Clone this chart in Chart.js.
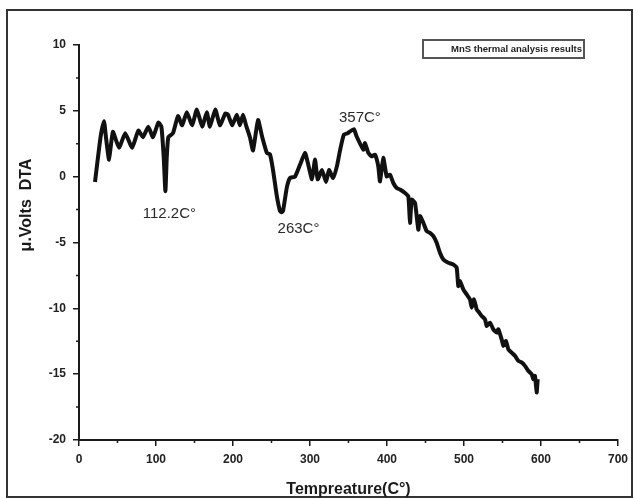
<!DOCTYPE html>
<html>
<head>
<meta charset="utf-8">
<title>MnS DTA</title>
<script src="https://cdn.jsdelivr.net/npm/chart.js@4.4.1/dist/chart.umd.min.js"></script>
<style>
    html, body { margin: 0; padding: 0; background: #fff; }
    #wrap { width: 634px; height: 499px; position: relative; }
</style>
</head>
<body>
<div id="wrap"><canvas id="dtaChart"></canvas></div>
<script>
// DTA trace of MnS: temperature (C) and signal (micro volts)
const tempC = [
    20.8, 28, 32.5, 35, 39, 44, 52, 60, 69, 77, 83, 90, 96, 103, 107, 110, 112.2, 114, 116,
    122, 128.6, 134, 140, 147, 153, 160, 166, 170, 177, 183, 190, 193.5, 199, 205, 209, 213,
    217, 222, 226, 232.5, 238, 244, 248, 252, 257, 261, 263, 265, 270, 274, 280.5, 287, 293.5,
    297, 302.6, 306.5, 310, 315.6, 320.8, 324.7, 330, 335, 339, 344, 349, 351, 357,
    360.6, 369.3, 371.4, 375.8, 380.1, 384.4, 388.7, 390.9, 395.2, 399.6, 403.9, 408.2, 412.6,
    416.9, 423.4, 427.7, 429.9, 432.1, 436.4, 440.7, 442.9, 447.2, 451.6, 455.8, 460.2, 464.5,
    468.8, 473.2, 479.6, 486.1, 490.5, 492.6, 494.8, 499.1, 503.5, 507.8, 510, 513, 516.5,
    519.9, 523, 527.3, 529.4, 533.8, 538.1, 542.4, 544.6, 548.9, 551.1, 554.5, 557.6, 561.9,
    566.2, 570.6, 574.9, 579.2, 583.6, 587.9, 590, 592.2, 594.4, 595.7
];
const dtaMicroVolts = [
    -0.4, 3.0, 4.2, 3.0, 1.3, 3.4, 2.2, 3.3, 2.2, 3.5, 3.0, 3.8, 3.0, 4.1, 3.8, 1.5, -1.1, 1.5, 3.0,
    3.3, 4.6, 3.9, 4.9, 3.9, 5.1, 3.8, 4.9, 3.8, 5.1, 3.9, 4.8, 4.7, 3.9, 4.7, 3.9, 4.7,
    3.9, 3.0, 2.0, 4.3, 3.0, 1.8, 1.7, 0.5, -1.5, -2.6, -2.7, -2.6, -0.8, -0.1, 0.0, 0.9, 1.8,
    1.1, -0.2, 1.3, -0.2, 0.5, -0.4, 0.5, -0.1, 0.8, 2.0, 3.2, 3.3, 3.4, 3.6,
    3.05, 2.05, 2.55, 1.8, 1.54, 1.67, 0.78, -0.36, 1.42, 0.02, 0.15, -0.48, -0.86,
    -0.98, -1.24, -1.49, -3.51, -1.74, -1.99, -4.02, -3.0, -3.5, -4.14, -4.27, -4.52, -5.02,
    -5.78, -6.29, -6.54, -6.67, -6.92, -8.31, -7.93, -8.56, -8.94, -9.32, -9.95, -9.32, -10.08,
    -10.33, -10.58, -10.83, -11.34, -11.09, -11.59, -11.84, -11.59, -12.35, -12.86, -12.48, -13.11, -13.36,
    -13.61, -13.99, -14.11, -14.37, -14.75, -15.0, -15.38, -15.13, -16.39, -15.38
];

// Peak labels: text, temperature, signal
const peakLabels = ['112.2C°', '263C°', '357C°'];
const peakTemps = [112.2, 263, 357];
const peakValues = [-1.1, -2.7, 3.6];

const xTicks = [0, 100, 200, 300, 400, 500, 600, 700];
const yTicks = [-20, -15, -10, -5, 0, 5, 10];

const seriesName = 'MnS thermal analysis results';
const ink = '#1a1a1a';

// frame, legend box, axis titles, minor ticks and peak labels
const decorations = {
    id: 'decorations',
    afterDraw(chart) {
        const ctx = chart.ctx;
        const xs = chart.scales.x;
        const ys = chart.scales.y;
        ctx.save();

        // minor ticks
        ctx.strokeStyle = ink;
        ctx.lineWidth = 1.5;
        ctx.beginPath();
        for (let t = 50; t < 700; t += 100) {
            const px = xs.getPixelForValue(t);
            ctx.moveTo(px, ys.bottom);
            ctx.lineTo(px, ys.bottom + 3);
        }
        for (let v = -17.5; v < 10; v += 5) {
            const py = ys.getPixelForValue(v);
            ctx.moveTo(xs.left, py);
            ctx.lineTo(xs.left - 3, py);
        }
        ctx.stroke();

        // outer frame
        ctx.strokeStyle = '#333';
        ctx.lineWidth = 2;
        ctx.strokeRect(7, 10, 625, 487);

        // legend
        ctx.strokeStyle = '#555';
        ctx.lineWidth = 2;
        ctx.strokeRect(423, 40, 161, 18);
        ctx.fillStyle = '#222';
        ctx.font = 'bold 9.5px "Liberation Sans", Arial, sans-serif';
        ctx.textAlign = 'right';
        ctx.textBaseline = 'middle';
        ctx.fillText(seriesName, 582, 49);

        // peak annotations
        ctx.font = '15px "Liberation Sans", Arial, sans-serif';
        ctx.fillStyle = '#2a2a2a';
        ctx.textAlign = 'center';
        const offsets = [[4, 23], [17, 17], [6, -11]];
        peakLabels.forEach((label, i) => {
            const px = xs.getPixelForValue(peakTemps[i]) + offsets[i][0];
            const py = ys.getPixelForValue(peakValues[i]) + offsets[i][1];
            ctx.fillText(label, px, py);
        });

        // axis titles
        ctx.font = 'bold 16px "Liberation Sans", Arial, sans-serif';
        ctx.fillStyle = ink;
        ctx.fillText('Tempreature(C°)', (xs.left + xs.right) / 2, 490);
        ctx.translate(27, 205);
        ctx.rotate(-Math.PI / 2);
        ctx.fillText('μ.Volts  DTA', 0, 0);

        ctx.restore();
    }
};

const tickFont = { family: '"Liberation Sans", Arial, sans-serif', size: 12, weight: 'bold' };

new Chart(document.getElementById('dtaChart'), {
    type: 'line',
    data: {
        datasets: [{
            label: seriesName,
            data: tempC.map((t, i) => ({ x: t, y: dtaMicroVolts[i] })),
            borderColor: '#111',
            borderWidth: 4,
            pointRadius: 0,
            tension: 0.15,
            fill: false
        }]
    },
    options: {
        responsive: true,
        maintainAspectRatio: false,
        animation: false,
        layout: { padding: { top: 45, right: 16, bottom: 0, left: 0 } },
        plugins: {
            legend: { display: false },
            tooltip: { enabled: false }
        },
        scales: {
            x: {
                type: 'linear',
                min: 0,
                max: 700,
                afterBuildTicks: scale => { scale.ticks = xTicks.map(v => ({ value: v })); },
                afterFit: scale => { scale.height = 59; },
                grid: { drawOnChartArea: false, tickLength: 6, tickColor: ink, lineWidth: 1.5 },
                border: { display: true, color: ink, width: 2 },
                ticks: { color: '#222', font: tickFont, padding: 6, maxRotation: 0 }
            },
            y: {
                type: 'linear',
                min: -20,
                max: 10,
                afterBuildTicks: scale => { scale.ticks = yTicks.map(v => ({ value: v })); },
                afterFit: scale => { scale.width = 79; },
                grid: { drawOnChartArea: false, tickLength: 6, tickColor: ink, lineWidth: 1.5 },
                border: { display: true, color: ink, width: 2 },
                ticks: { color: '#222', font: tickFont, padding: 7 }
            }
        }
    },
    plugins: [decorations]
});
</script>
</body>
</html>
